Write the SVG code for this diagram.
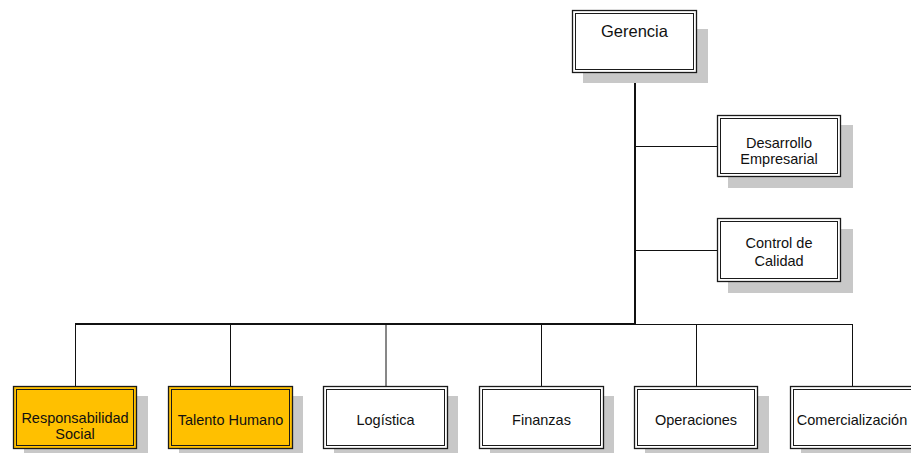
<svg xmlns="http://www.w3.org/2000/svg" width="911" height="453" viewBox="0 0 911 453">
<defs>
<style>
.sh{fill:#c8c8c8;stroke:none}
.bo{fill:#ffffff;stroke:#1a1a1a;stroke-width:1.3}
.bi{fill:none;stroke:#1a1a1a;stroke-width:1}
.y .bo{fill:#ffc000}
.t{font-family:"Liberation Sans",Arial,sans-serif;font-size:14.5px;fill:#111;text-anchor:middle}
.big{font-size:16.5px}
.c{fill:none;stroke:#111;stroke-width:1}
.ct{fill:none;stroke:#111;stroke-width:2}
</style>
</defs>
<rect width="911" height="453" fill="#ffffff"/>
<g id="connectors">
<line class="ct" x1="635" y1="73" x2="635" y2="324"/>
<line class="c" x1="635" y1="146.5" x2="717" y2="146.5"/>
<line class="c" x1="635" y1="250.5" x2="717" y2="250.5"/>
<line class="ct" x1="75" y1="324" x2="636" y2="324"/>
<line class="c" x1="635" y1="324.5" x2="852.5" y2="324.5"/>
<line class="c" x1="75.5" y1="324" x2="75.5" y2="386"/>
<line class="c" x1="230.5" y1="324" x2="230.5" y2="386"/>
<line class="c" x1="386" y1="324" x2="386" y2="386"/>
<line class="c" x1="541.5" y1="324" x2="541.5" y2="386"/>
<line class="c" x1="696.5" y1="324" x2="696.5" y2="386"/>
<line class="c" x1="852.5" y1="324" x2="852.5" y2="386"/>
</g>
<g id="gerencia">
<rect class="sh" x="583" y="29" width="125" height="54"/>
<rect class="bo" x="572.5" y="10.5" width="124" height="62"/>
<rect class="bi" x="575.5" y="13.5" width="118" height="56"/>
<text class="t big" x="634.5" y="37">Gerencia</text>
</g>
<g id="desarrollo">
<rect class="sh" x="728" y="125" width="125" height="63"/>
<rect class="bo" x="717.5" y="115.5" width="123" height="61"/>
<rect class="bi" x="720.5" y="118.5" width="117" height="55"/>
<text class="t" x="779" y="148">Desarrollo</text>
<text class="t" x="779" y="164">Empresarial</text>
</g>
<g id="control">
<rect class="sh" x="728" y="229" width="125" height="64"/>
<rect class="bo" x="717.5" y="218.5" width="123" height="63"/>
<rect class="bi" x="720.5" y="221.5" width="117" height="57"/>
<text class="t" x="779" y="248">Control de</text>
<text class="t" x="779" y="266">Calidad</text>
</g>
<g id="responsabilidad" class="y">
<rect class="sh" x="24" y="396" width="124" height="60"/>
<rect class="bo" x="13.5" y="386.5" width="123" height="62"/>
<rect class="bi" x="16.5" y="389.5" width="117" height="56"/>
<text class="t" x="75" y="423">Responsabilidad</text>
<text class="t" x="75" y="439">Social</text>
</g>
<g id="talento" class="y">
<rect class="sh" x="179" y="396" width="124" height="60"/>
<rect class="bo" x="168.5" y="386.5" width="124" height="62"/>
<rect class="bi" x="171.5" y="389.5" width="118" height="56"/>
<text class="t" x="230.5" y="425">Talento Humano</text>
</g>
<g id="logistica">
<rect class="sh" x="334" y="396" width="124" height="60"/>
<rect class="bo" x="323.5" y="386.5" width="124" height="62"/>
<rect class="bi" x="326.5" y="389.5" width="118" height="56"/>
<text class="t" x="385.5" y="425">Logística</text>
</g>
<g id="finanzas">
<rect class="sh" x="490" y="396" width="124" height="60"/>
<rect class="bo" x="479.5" y="386.5" width="124" height="62"/>
<rect class="bi" x="482.5" y="389.5" width="118" height="56"/>
<text class="t" x="541.5" y="425">Finanzas</text>
</g>
<g id="operaciones">
<rect class="sh" x="645" y="396" width="124" height="60"/>
<rect class="bo" x="634.5" y="386.5" width="123" height="62"/>
<rect class="bi" x="637.5" y="389.5" width="117" height="56"/>
<text class="t" x="696" y="425">Operaciones</text>
</g>
<g id="comercializacion">
<rect class="sh" x="801" y="396" width="124" height="60"/>
<rect class="bo" x="790.5" y="386.5" width="124" height="62"/>
<rect class="bi" x="793.5" y="389.5" width="118" height="56"/>
<text class="t" x="852" y="425">Comercialización</text>
</g>
</svg>
